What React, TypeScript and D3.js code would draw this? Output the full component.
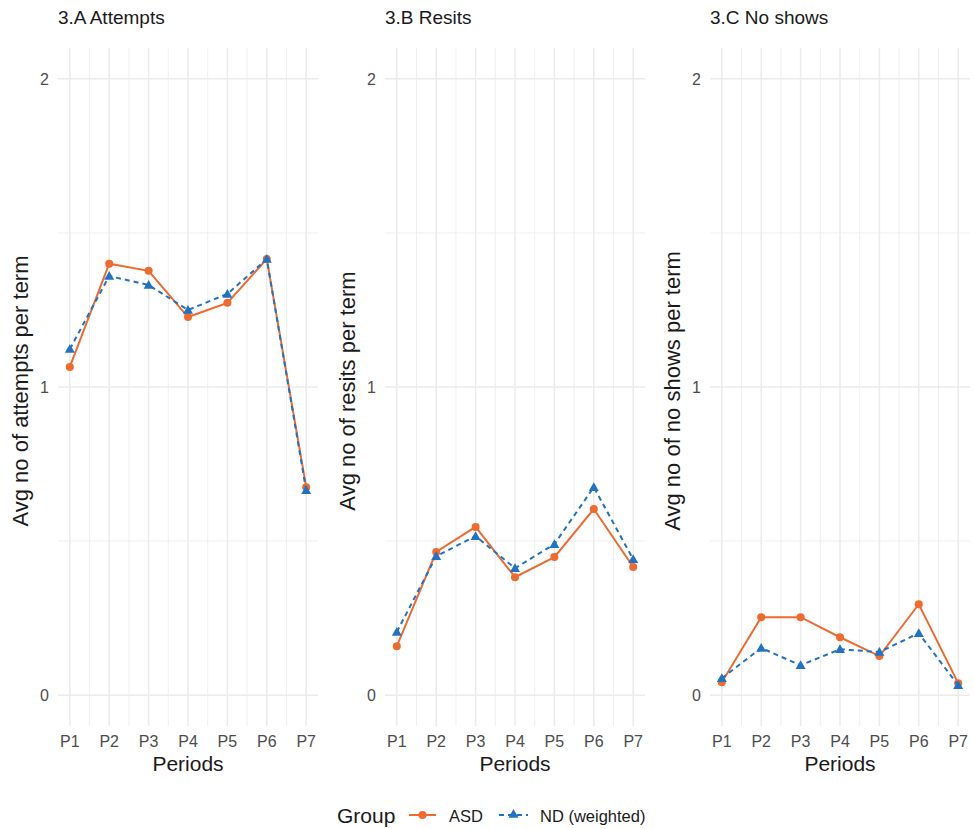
import * as d3 from 'd3';
import React from 'react';

const periods = ['P1', 'P2', 'P3', 'P4', 'P5', 'P6', 'P7'];
const yTicks = [0, 1, 2];

const panelTitles = ['3.A Attempts', '3.B Resits', '3.C No shows'];
const yTitles = ['Avg no of attempts per term', 'Avg no of resits per term', 'Avg no of no shows per term'];

const attemptsASD = [1.065, 1.4, 1.377, 1.227, 1.273, 1.415, 0.675];
const attemptsND = [1.123, 1.36, 1.331, 1.25, 1.302, 1.415, 0.665];
const resitsASD = [0.159, 0.465, 0.546, 0.383, 0.448, 0.604, 0.416];
const resitsND = [0.205, 0.451, 0.516, 0.412, 0.49, 0.675, 0.441];
const noShowsASD = [0.042, 0.253, 0.253, 0.188, 0.127, 0.295, 0.039];
const noShowsND = [0.055, 0.153, 0.097, 0.149, 0.14, 0.201, 0.032];

const asdColor = '#ef6a2c';
const ndColor = '#1f72c4';
const gridColor = '#ebebeb';
const font = '"Liberation Sans", Arial, Helvetica, sans-serif';

const panels = [
  { title: panelTitles[0], yTitle: yTitles[0], asd: attemptsASD, nd: attemptsND, left: 58 },
  { title: panelTitles[1], yTitle: yTitles[1], asd: resitsASD, nd: resitsND, left: 385 },
  { title: panelTitles[2], yTitle: yTitles[2], asd: noShowsASD, nd: noShowsND, left: 710 },
];

const plotW = 260;
const top = 48;
const bottom = 726;

const y = d3.scaleLinear().domain([-0.1, 2.1]).range([bottom, top]);

function triangle(cx: number, cy: number, s = 5.5) {
  return `M${cx},${cy - s}L${cx + s},${cy + s * 0.75}L${cx - s},${cy + s * 0.75}Z`;
}

function Panel({ p }: { p: typeof panels[number] }) {
  const x = d3.scaleLinear().domain([-0.3, 6.3]).range([p.left, p.left + plotW]);
  const line = d3.line<number>().x((_, i) => x(i)).y(d => y(d));
  const minorX = d3.range(0.5, 6, 1);
  const minorY = [0.5, 1.5];
  return (
    <g>
      {minorY.map(v => (
        <line key={'my' + v} x1={p.left} x2={p.left + plotW} y1={y(v)} y2={y(v)} stroke={gridColor} strokeWidth={0.8} />
      ))}
      {minorX.map(v => (
        <line key={'mx' + v} x1={x(v)} x2={x(v)} y1={top} y2={bottom} stroke={gridColor} strokeWidth={0.8} />
      ))}
      {yTicks.map(v => (
        <line key={'y' + v} x1={p.left} x2={p.left + plotW} y1={y(v)} y2={y(v)} stroke={gridColor} strokeWidth={1.5} />
      ))}
      {periods.map((_, i) => (
        <line key={'x' + i} x1={x(i)} x2={x(i)} y1={top} y2={bottom} stroke={gridColor} strokeWidth={1.5} />
      ))}
      {yTicks.map(v => (
        <text key={'yt' + v} x={p.left - 9} y={y(v)} dy="0.36em" textAnchor="end" fontSize={16} fill="#4d4d4d">{v}</text>
      ))}
      {periods.map((d, i) => (
        <text key={'xt' + d} x={x(i)} y={747} textAnchor="middle" fontSize={16} fill="#4d4d4d">{d}</text>
      ))}
      <text x={p.left + plotW / 2} y={771} textAnchor="middle" fontSize={21} fill="#1a1a1a">Periods</text>
      <text transform={`translate(${p.left - 30},${(top + bottom) / 2 + 4}) rotate(-90)`} textAnchor="middle" fontSize={22} fill="#1a1a1a">{p.yTitle}</text>
      <text x={p.left} y={24} fontSize={19} fill="#1a1a1a">{p.title}</text>
      <path d={line(p.asd) || ''} fill="none" stroke={asdColor} strokeWidth={2} />
      {p.asd.map((v, i) => (
        <circle key={'a' + i} cx={x(i)} cy={y(v)} r={4} fill={asdColor} />
      ))}
      <path d={line(p.nd) || ''} fill="none" stroke={ndColor} strokeWidth={2} strokeDasharray="5,4" />
      {p.nd.map((v, i) => (
        <path key={'n' + i} d={triangle(x(i), y(v), 5)} fill={ndColor} />
      ))}
    </g>
  );
}

export default function App() {
  return (
    <svg width={974} height={829} style={{ display: 'block', position: 'absolute', left: 0, top: 0 }} fontFamily={font}>
      <rect width={974} height={829} fill="#ffffff" />
      {panels.map(p => <Panel key={p.title} p={p} />)}
      <g>
        <text x={337} y={823} fontSize={21} fill="#1a1a1a">Group</text>
        <line x1={409} x2={436} y1={815} y2={815} stroke={asdColor} strokeWidth={2} />
        <circle cx={422.5} cy={815} r={4} fill={asdColor} />
        <text x={449} y={822} fontSize={16.5} fill="#1a1a1a">ASD</text>
        <line x1={499} x2={528} y1={815} y2={815} stroke={ndColor} strokeWidth={2} strokeDasharray="5,4" />
        <path d={triangle(513.5, 814, 5)} fill={ndColor} />
        <text x={540} y={822} fontSize={16.5} fill="#1a1a1a">ND (weighted)</text>
      </g>
    </svg>
  );
}
